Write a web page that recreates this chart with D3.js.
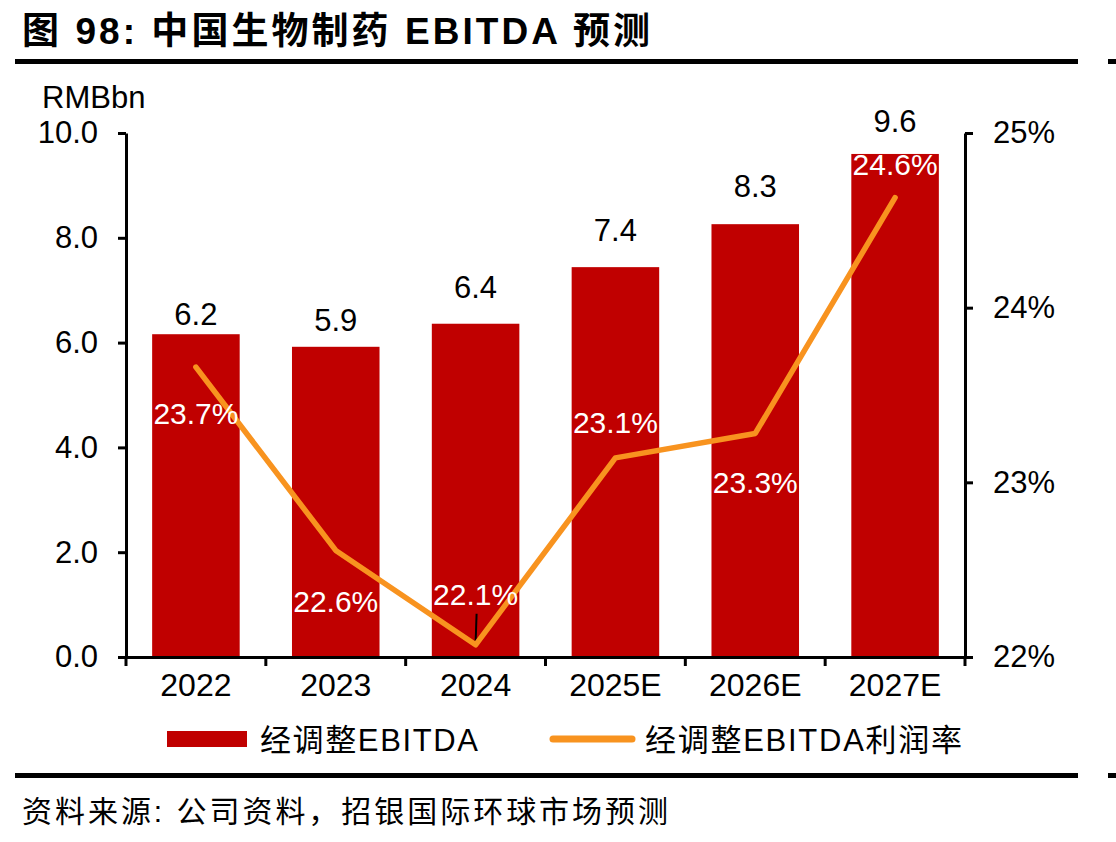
<!DOCTYPE html>
<html><head><meta charset="utf-8">
<script src="https://cdn.jsdelivr.net/npm/d3@7"></script>
<style>body{margin:0;background:#fff} svg{display:block}</style>
</head><body><svg id="c" width="1116" height="842"></svg>
<script>
const categories = ["2022","2023","2024","2025E","2026E","2027E"];
const ebitda = [6.16, 5.92, 6.36, 7.44, 8.26, 9.6];
const marginPct = [23.66, 22.61, 22.07, 23.14, 23.28, 24.63];
const leftTicks = [0, 2, 4, 6, 8, 10];
const rightTicks = [22, 23, 24, 25];
const seriesNames = ["经调整EBITDA", "经调整EBITDA利润率"];
const titleText = "图 98: 中国生物制药 EBITDA 预测";
const sourceText = "资料来源: 公司资料，招银国际环球市场预测";
const unitText = "RMBbn";

// label placement (style only)
const barLabelGap = [9, 16, 26, 26, 27, 22];
const pctLabelDy = [57, 62, -40, -25, 60, -23];

const RED = "#C00000", ORANGE = "#F8931F";
const FONT = "'Liberation Sans', Arial, 'Noto Sans CJK SC', sans-serif";

const svg = d3.select("#c");
const x = d3.scaleBand().domain(categories).range([126, 965]).paddingInner(0.374).paddingOuter(0.187);
const yL = d3.scaleLinear().domain([0, 10]).range([657, 133]);
const yR = d3.scaleLinear().domain([22, 25]).range([657, 133]);

// title + rules
svg.append("text").attr("x", 22).attr("y", 31).attr("dominant-baseline", "central")
  .attr("font-family", FONT).attr("font-weight", "bold").attr("font-size", 37)
  .attr("textLength", 628).attr("lengthAdjust", "spacing").text(titleText);
svg.append("rect").attr("x", 15).attr("y", 59).attr("width", 1063).attr("height", 5).attr("fill", "#000");
svg.append("rect").attr("x", 1108).attr("y", 59).attr("width", 8).attr("height", 5).attr("fill", "#000");
svg.append("rect").attr("x", 15).attr("y", 773).attr("width", 1063).attr("height", 5).attr("fill", "#000");
svg.append("rect").attr("x", 1108).attr("y", 773).attr("width", 8).attr("height", 5).attr("fill", "#000");

svg.append("text").attr("x", 42).attr("y", 108).attr("font-family", FONT).attr("font-size", 31).text(unitText);

// bars
svg.append("g").selectAll("rect").data(ebitda).join("rect")
  .attr("x", (d, i) => x(categories[i])).attr("width", x.bandwidth())
  .attr("y", d => yL(d)).attr("height", d => yL(0) - yL(d)).attr("fill", RED);

// bar labels
svg.append("g").selectAll("text").data(ebitda).join("text")
  .attr("x", (d, i) => x(categories[i]) + x.bandwidth() / 2)
  .attr("y", (d, i) => yL(d) - barLabelGap[i])
  .attr("text-anchor", "middle").attr("font-family", FONT).attr("font-size", 31)
  .text(d => d3.format(".1f")(d));

// axes
const axL = svg.append("g").attr("transform", "translate(126,0)")
  .call(d3.axisLeft(yL).tickValues(leftTicks).tickFormat(d3.format(".1f")).tickSize(8).tickSizeOuter(0).tickPadding(20));
const axR = svg.append("g").attr("transform", "translate(965,0)")
  .call(d3.axisRight(yR).tickValues(rightTicks).tickFormat(d => d + "%").tickSize(8).tickSizeOuter(0).tickPadding(20));
const axB = svg.append("g").attr("transform", "translate(0,657)")
  .call(d3.axisBottom(x).tickSize(0).tickSizeOuter(0).tickPadding(16));
[axL, axR, axB].forEach(g => {
  g.attr("font-family", FONT).attr("font-size", 31);
  g.selectAll("path.domain").attr("stroke", "#000").attr("stroke-width", 3);
  g.selectAll(".tick line").attr("stroke", "#000").attr("stroke-width", 3);
  g.selectAll(".tick text").attr("fill", "#000");
});
axB.attr("font-size", 32);
// category boundary ticks
const bounds = d3.range(categories.length + 1).map(i => x.range()[0] + i * x.step());
axB.selectAll("line.bnd").data(bounds).join("line").attr("class", "bnd")
  .attr("x1", d => d).attr("x2", d => d).attr("y1", 0).attr("y2", 9)
  .attr("stroke", "#000").attr("stroke-width", 3);

// leader line for 2024 label
svg.append("line")
  .attr("x1", x("2024") + x.bandwidth() / 2 + 1).attr("x2", x("2024") + x.bandwidth() / 2)
  .attr("y1", yR(marginPct[2]) - 31).attr("y2", yR(marginPct[2]) - 1)
  .attr("stroke", "#000").attr("stroke-width", 2);

// margin line
const line = d3.line().x((d, i) => x(categories[i]) + x.bandwidth() / 2).y(d => yR(d));
svg.append("path").datum(marginPct).attr("d", line).attr("fill", "none")
  .attr("stroke", ORANGE).attr("stroke-width", 5.5).attr("stroke-linecap", "round").attr("stroke-linejoin", "round");

// pct labels
svg.append("g").selectAll("text").data(marginPct).join("text")
  .attr("x", (d, i) => x(categories[i]) + x.bandwidth() / 2)
  .attr("y", (d, i) => yR(d) + pctLabelDy[i])
  .attr("text-anchor", "middle").attr("font-family", FONT).attr("font-size", 30).attr("fill", "#fff")
  .text(d => d3.format(".1f")(d) + "%");

// legend
svg.append("rect").attr("x", 167).attr("y", 731).attr("width", 80).attr("height", 16).attr("fill", RED);
svg.append("text").attr("x", 260).attr("y", 740).attr("dominant-baseline", "central")
  .attr("font-family", FONT).attr("font-size", 31).attr("textLength", 218).attr("lengthAdjust", "spacing")
  .text(seriesNames[0]);
svg.append("line").attr("x1", 553).attr("x2", 632).attr("y1", 739).attr("y2", 739)
  .attr("stroke", ORANGE).attr("stroke-width", 7).attr("stroke-linecap", "round");
svg.append("text").attr("x", 645).attr("y", 740).attr("dominant-baseline", "central")
  .attr("font-family", FONT).attr("font-size", 31).attr("textLength", 317).attr("lengthAdjust", "spacing")
  .text(seriesNames[1]);

// source
svg.append("text").attr("x", 22).attr("y", 811).attr("dominant-baseline", "central")
  .attr("font-family", FONT).attr("font-size", 30).attr("textLength", 646).attr("lengthAdjust", "spacing")
  .text(sourceText);
</script></body></html>
